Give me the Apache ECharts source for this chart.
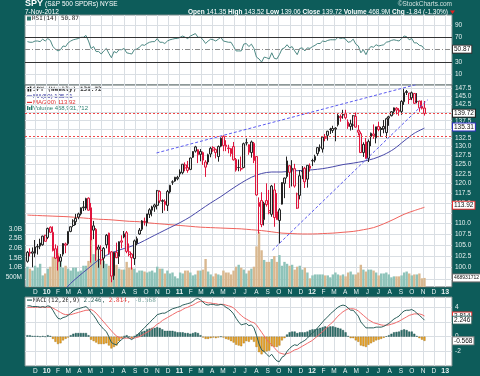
<!DOCTYPE html>
<html>
<head>
<meta charset="utf-8">
<title>SPY weekly</title>
<script src="https://cdn.jsdelivr.net/npm/echarts@6.0.0/dist/echarts.min.js"></script>
<style>
  html, body { margin: 0; padding: 0; background: #0d5c5a; }
  #chart { width: 480px; height: 376px; }
</style>
</head>
<body>
<div id="chart"></div>
<script>
// SPY weekly bars, Nov 2009 - Nov 2012 (dividend adjusted prices)
const firstWeek = Date.UTC(2009, 10, 9);   // monday of the first bar
const WEEK = 7 * 864e5;

// [open, high, low, close]
const ohlc = [
  [101.3,103.6,101.0,103.3],[103.3,104.2,102.4,103.1],[103.4,104.4,100.0,103.1],[103.1,106.1,102.2,104.5],[104.6,105.2,102.8,104.5],
  [105.4,106.4,104.0,104.7],[105.0,107.1,104.8,107.0],[107.2,107.3,105.8,105.8],[106.7,109.0,106.3,108.8],[109.1,109.3,107.7,107.9],
  [107.9,109.3,103.5,103.7],[104.1,105.1,101.8,102.0],[102.5,104.8,99.3,101.2],[101.3,102.9,100.1,102.2],[102.9,105.4,102.4,105.3],
  [105.2,105.5,103.1,104.9],[105.3,108.1,104.9,108.1],[108.1,109.3,107.9,109.2],[109.5,111.0,109.1,110.6],[110.4,112.3,109.6,111.2],
  [111.5,112.6,111.0,112.3],[112.3,113.9,111.9,113.8],[114.0,115.5,113.0,113.8],[113.7,116.3,113.2,116.1],[116.2,116.4,113.1,113.2],
  [113.8,115.0,101.0,106.1],[109.4,110.6,106.3,108.4],[108.6,108.9,101.4,103.8],[104.5,105.0,99.9,104.0],[103.7,104.9,100.6,101.6],
  [102.0,104.5,99.8,104.2],[105.0,107.5,104.2,107.2],[107.7,107.8,102.8,103.2],[103.4,103.6,96.8,98.1],[98.2,103.4,97.3,103.3],
  [103.3,105.5,102.0,102.1],[102.4,105.8,100.7,105.7],[105.9,107.2,104.2,105.6],[106.8,108.2,106.5,107.5],[107.8,108.2,103.1,103.5],
  [103.4,105.3,102.4,102.8],[102.9,103.1,99.5,102.1],[101.9,106.2,100.5,105.9],[105.3,106.9,104.9,106.4],[107.5,108.9,107.3,108.4],
  [108.6,110.8,108.2,110.6],[110.5,111.4,109.5,110.4],[110.2,112.3,109.3,112.3],[112.2,113.7,111.3,113.3],[113.2,114.3,111.7,114.0],
  [114.5,114.8,112.8,114.0],[114.4,118.3,113.4,118.1],[117.9,118.2,115.0,115.5],[115.4,115.9,112.5,115.6],[115.4,115.9,113.1,114.6],
  [114.4,118.3,113.0,117.9],[117.8,119.6,117.4,119.5],[120.3,120.8,119.6,120.4],[120.6,121.7,120.4,121.6],[121.2,122.0,120.8,121.6],
  [122.5,123.7,121.7,123.0],[122.8,125.1,122.4,125.1],[124.9,125.6,123.2,124.1],[124.2,126.0,122.8,123.4],[123.7,126.9,123.5,126.8],
  [127.0,128.7,126.8,128.6],[128.7,130.2,128.3,129.9],[129.1,129.2,125.4,127.7],[128.6,129.3,125.9,127.8],[128.3,128.6,124.9,126.2],
  [125.7,126.2,121.7,124.3],[125.7,128.0,125.0,127.7],[127.9,129.9,127.0,129.5],[129.7,130.1,128.5,129.0],[129.2,129.4,126.7,128.3],
  [127.2,130.3,125.8,130.0],[130.1,132.6,129.8,132.4],[132.9,133.2,128.7,130.3],[130.4,131.8,128.7,130.0],[129.4,130.5,128.1,129.6],
  [128.0,129.6,127.2,129.4],[130.0,131.3,126.1,126.3],[126.4,126.8,123.1,123.5],[124.2,126.4,123.2,124.2],[123.9,127.2,123.2,123.8],
  [124.2,131.1,124.0,130.8],[131.0,132.3,130.3,131.1],[130.5,130.6,127.7,128.4],[128.3,131.7,126.9,131.3],[130.9,131.3,125.4,126.1],
  [127.2,127.2,116.8,117.0],[114.1,116.4,107.6,115.1],[115.6,117.7,109.1,109.7],[110.9,115.3,109.5,114.9],[115.6,120.0,114.1,114.6],
  [113.1,118.3,112.2,112.6],[112.2,119.6,111.6,119.3],[118.3,120.0,109.2,111.4],[112.8,117.5,110.9,110.9],[110.7,113.7,105.3,113.3],
  [114.7,120.3,114.6,120.2],[120.0,121.5,116.2,121.4],[121.8,127.2,121.3,126.0],[124.7,124.8,118.8,122.9],[123.6,126.2,119.2,124.0],
  [123.9,125.2,118.9,119.3],[117.3,117.6,113.5,113.7],[116.9,123.5,115.9,122.0],[123.2,124.6,121.1,123.1],[124.0,124.4,118.8,120.4],
  [121.1,124.8,118.9,124.8],[124.6,125.3,123.1,124.0],[126.0,126.6,124.6,126.1],[126.2,127.7,125.6,127.2],[128.0,129.8,127.4,129.7],
  [129.8,130.6,128.6,129.8],[129.3,132.8,128.3,132.7],[132.4,133.6,131.5,132.5],[133.2,134.5,131.7,134.4],[135.0,135.4,133.6,134.9],
  [134.6,136.0,133.9,135.2],[135.0,135.6,131.5,135.3],[136.3,139.5,135.8,139.1],[138.8,139.4,137.2,138.4],[139.2,140.8,138.1,139.4],
  [139.6,140.8,137.9,138.4],[137.1,137.9,135.1,135.8],[135.8,137.8,134.6,136.6],[136.2,139.2,134.8,139.0],[138.8,140.0,135.5,135.6],
  [134.7,136.2,133.2,134.1],[133.7,134.3,128.2,128.3],[128.3,131.2,127.1,130.6],[131.3,132.4,126.6,126.7],[126.7,132.0,125.7,131.4],
  [132.8,134.0,130.1,133.8],[133.6,136.4,132.2,133.1],[132.5,135.7,130.9,135.7],[135.8,137.2,134.4,134.9],[134.9,135.7,132.8,135.2],
  [135.1,137.7,133.8,135.8],[134.0,138.4,132.4,138.1],[138.3,139.0,136.0,138.7],[139.0,140.4,138.8,140.2],[140.3,141.5,139.4,141.4],
  [141.3,141.6,139.4,140.7],[140.7,141.3,139.0,140.3],[140.3,143.8,139.3,143.4],[143.3,147.4,142.3,146.1],[146.5,147.0,145.4,146.2],
  [146.0,146.0,142.6,144.0],[144.5,146.5,143.8,146.1],[145.9,146.0,142.6,142.8],[143.4,146.0,142.8,143.4],[143.5,143.6,140.2,141.4],
  [141.9,143.7,140.9,141.3],[141.35,143.52,139.06,139.72]
];

// weekly volume, millions of shares
const volumeM = [
  1050,950,850,1100,1000,1200,600,700,
  950,1050,1550,1500,1750,1300,1000,1100,950,850,
  1000,1000,800,850,1100,1100,1350,2600,1700,1950,1450,1600,1350,
  1200,1100,1450,1100,1150,950,900,900,1300,1000,1000,950,750,
  850,850,800,750,800,850,750,1050,950,950,700,850,700,
  750,550,450,
  750,700,850,850,750,600,650,850,850,900,
  1450,800,650,550,700,650,600,850,750,750,650,850,1050,
  1150,1000,900,700,850,950,1050,2100,2850,1900,1400,1300,1300,
  1450,1600,1300,1650,1100,1300,1200,1100,1150,900,1050,1100,900,
  1000,750,450,
  600,650,650,650,650,600,600,500,650,750,
  650,600,650,550,750,800,650,650,750,1150,900,800,900,
  900,850,750,600,700,700,750,650,500,550,550,550,600,
  750,800,700,600,650,650,700,450,469
];

const rsi = [
  63,62,62,64,64,63,67,64,
  68,65,55,51,48,50,56,55,
  61,64,66,67,68,70,70,73,64,
  52,55,47,47,43,48,52,44,37,
  47,45,50,50,52,45,44,43,50,51,
  54,58,57,60,62,63,63,68,62,62,60,64,66,67,68,68,
  70,72,70,68,72,74,76,70,70,66,
  60,64,67,66,64,67,70,64,63,62,62,55,48,
  48,48,59,60,55,59,52,38,35,30,38,37,35,
  45,36,35,42,51,53,58,53,55,48,42,52,53,48,53,52,
  55,57,60,60,64,63,65,66,66,66,
  70,68,69,67,62,63,67,59,56,45,50,42,51,
  55,54,58,56,57,58,62,63,65,66,65,64,68,72,
  71,66,68,61,61,57,56,50.87
];

const macd = [
  4.2,4.2,4.1,4.1,4.1,4.0,4.1,4.0,
  4.2,4.1,3.6,3.0,2.5,2.4,2.6,2.7,
  2.9,3.2,3.5,3.7,3.8,3.9,4.0,4.1,3.8,
  3.3,2.9,2.4,1.8,1.4,1.0,0.7,0.0,-0.8,
  -1.0,-1.1,-0.7,-0.4,-0.1,0.0,-0.2,-0.4,-0.1,0.2,
  0.5,0.9,1.2,1.6,1.9,2.3,2.6,3.0,3.1,3.2,3.2,3.4,3.6,3.8,3.9,4.0,
  4.1,4.3,4.4,4.5,4.6,4.8,5.1,5.2,5.0,4.7,
  4.4,4.3,4.4,4.4,4.3,4.3,4.4,4.3,4.0,3.8,3.5,3.1,2.5,
  2.0,1.6,1.7,1.8,1.5,1.6,1.2,0.2,-1.0,-1.8,-2.0,-2.4,-2.7,
  -2.4,-2.9,-3.3,-3.4,-2.8,-2.6,-2.0,-1.6,-1.3,-1.1,-1.2,-0.9,-0.7,-0.5,-0.2,0.2,
  0.5,0.8,1.2,1.6,2.0,2.4,2.7,3.1,3.4,3.7,
  4.0,4.2,4.3,4.2,3.9,3.6,3.6,3.2,2.8,2.0,1.6,1.2,1.2,
  1.2,1.2,1.3,1.3,1.3,1.4,1.6,1.8,2.1,2.4,2.6,2.8,3.2,3.5,
  3.6,3.6,3.7,3.5,3.2,2.9,2.6,2.246
];

const signal = [
  4.0,4.0,4.0,4.0,4.0,4.0,4.0,4.0,
  4.0,4.0,3.9,3.7,3.5,3.3,3.1,3.0,
  3.0,3.0,3.1,3.2,3.3,3.4,3.5,3.6,3.6,
  3.7,3.5,3.2,2.8,2.4,2.0,1.6,1.2,0.8,
  0.4,0.1,-0.1,-0.2,-0.2,-0.2,-0.2,-0.2,-0.2,-0.1,
  0.0,0.2,0.4,0.6,0.8,1.1,1.4,1.7,1.9,2.2,2.4,2.6,2.8,3.0,3.2,3.4,
  3.5,3.7,3.9,4.0,4.2,4.3,4.5,4.7,4.8,4.8,
  4.7,4.6,4.6,4.5,4.5,4.4,4.4,4.4,4.3,4.2,4.1,3.9,3.6,
  3.2,2.9,2.6,2.4,2.2,2.0,1.9,1.6,1.1,0.6,0.1,-0.4,-0.8,
  -1.1,-1.5,-1.9,-2.2,-2.3,-2.4,-2.3,-2.2,-2.0,-1.8,-1.7,-1.5,-1.3,-1.1,-0.9,-0.7,
  -0.5,-0.2,0.1,0.4,0.7,1.0,1.4,1.7,2.0,2.4,
  2.8,3.1,3.4,3.6,3.8,3.8,3.8,3.7,3.5,3.2,2.9,2.6,2.3,
  2.1,1.9,1.8,1.7,1.6,1.55,1.55,1.6,1.7,1.8,1.95,2.1,2.3,2.5,
  2.7,2.9,3.0,3.1,3.1,3.1,3.0,2.814
];

const hist = [
  0.2,0.2,0.1,0.1,0.1,0.0,0.1,0.0,
  0.2,0.1,-0.3,-0.7,-1.0,-0.9,-0.5,-0.3,
  -0.1,0.2,0.4,0.5,0.5,0.5,0.5,0.5,0.2,
  -0.4,-0.6,-0.8,-1.0,-1.0,-1.0,-0.9,-1.2,-1.6,
  -1.4,-1.2,-0.6,-0.2,0.1,0.2,0.0,-0.2,0.1,0.3,
  0.5,0.7,0.8,1.0,1.1,1.2,1.2,1.3,1.2,1.0,0.8,0.8,0.8,0.8,0.7,0.6,
  0.6,0.6,0.5,0.5,0.4,0.5,0.6,0.5,0.2,-0.1,
  -0.3,-0.3,-0.2,-0.1,-0.2,-0.1,0.0,-0.1,-0.3,-0.4,-0.6,-0.8,-1.1,
  -1.2,-1.3,-0.9,-0.6,-0.7,-0.4,-0.7,-1.4,-2.1,-2.4,-2.1,-2.0,-1.9,
  -1.3,-1.4,-1.4,-1.2,-0.5,-0.2,0.3,0.6,0.7,0.7,0.5,0.6,0.6,0.6,0.7,0.9,
  1.0,1.0,1.1,1.2,1.3,1.4,1.3,1.4,1.4,1.3,
  1.2,1.1,0.9,0.6,0.1,-0.2,-0.2,-0.5,-0.7,-1.2,-1.3,-1.4,-1.1,
  -0.9,-0.7,-0.5,-0.4,-0.3,-0.15,0.05,0.2,0.4,0.6,0.65,0.7,0.9,1.0,
  0.9,0.7,0.7,0.4,0.1,-0.2,-0.4,-0.568
];

// moving averages, read every 4th week
const ma50 = [
  85.5,88.0,90.5,93.0,96.0,98.0,99.8,101.6,102.9,103.8,
  104.5,105.4,106.6,107.8,109.0,110.2,111.6,113.3,115.0,116.6,
  118.4,120.1,121.6,122.6,123.0,123.0,123.3,123.4,123.6,123.9,
  124.4,125.0,125.4,125.9,126.6,127.7,129.3,131.6,133.8,135.31
];
const ma200 = [
  112.0,111.9,111.8,111.7,111.6,111.4,111.2,111.0,110.9,110.7,
  110.5,110.4,110.1,109.9,109.7,109.5,109.3,109.1,109.0,108.9,
  108.8,108.7,108.5,108.3,108.0,107.7,107.6,107.5,107.5,107.6,
  107.7,107.9,108.1,108.5,109.0,109.9,111.0,112.2,113.1,113.92
];

// drawn lines on the price panel
const upperTrend = [[Date.UTC(2010, 9, 30), 128.2], [Date.UTC(2012, 9, 12), 148.7]];
const lowerTrend = [[Date.UTC(2011, 8, 14), 103.8], [Date.UTC(2012, 10, 14), 143.9]];
const hLines = [139.72, 133.2];

// ticks
const priceGrid = [97.5,100,102.5,105,107.5,110,112.5,115,117.5,120,122.5,125,127.5,130,132.5,135,137.5,140,142.5,145,147.5];
const priceLabels = [100,102.5,105,107.5,110,115,117.5,120,122.5,125,127.5,130,132.5,137.5,142.5,145,147.5];
const volLabels = [5e8, 1e9, 1.5e9, 2e9, 2.5e9, 3e9];
const rsiGrid = [10, 90];
const rsiLabels = [10, 30, 70, 90];
const macdGrid = [-2, 0, 2, 4];
const macdLabels = [-2, 0, 4];

[volumeM, rsi, macd, signal, hist].forEach((a, k) => {
  if (a.length !== ohlc.length) throw new Error('array ' + k + ' has ' + a.length + ' vs ' + ohlc.length);
});

const weeks = ohlc.map((r, i) => firstWeek + i * WEEK);
const maWeeks = ma50.map((v, i) => weeks[i * 4]);

const xMin = Date.UTC(2009, 10, 2, 8);
const xMax = Date.UTC(2013, 0, 19, 17);

const monthTicks = [];
for (let y = 2009; y <= 2013; y++) {
  for (let m = 0; m < 12; m++) {
    const t = Date.UTC(y, m, 1);
    if (t > xMin && t < xMax) monthTicks.push(t);
  }
}
const MONTHS = 'JFMAMJJASOND';
function monthLabel(v) {
  const d = new Date(v);
  const m = d.getUTCMonth();
  return m === 0 ? '{y|' + String(d.getUTCFullYear()).slice(2) + '}' : MONTHS[m];
}

const FONT = 'Liberation Sans, Arial, sans-serif';
const MONO = 'DejaVu Sans Mono, monospace';
const GRID_LINE = '#d9dee3';
const AXIS_TEXT = '#e8f0f0';
const RED = '#e0143c';
const UP_VOL = '#8ec3b9';
const DOWN_VOL = '#d9b890';
const NO_LINE = { color: 'rgba(0,0,0,0)', width: 0 };

// dates are plain millisecond values on a value axis, so the month ticks can be placed by hand
function dateAxis(gridIndex, showLabels) {
  return {
    type: 'value', gridIndex: gridIndex, min: xMin, max: xMax,
    axisLine: { show: false },
    axisTick: { show: false, customValues: monthTicks },
    splitLine: { show: true, lineStyle: { color: GRID_LINE, width: 1 } },
    axisLabel: {
      show: showLabels, customValues: monthTicks, formatter: monthLabel,
      color: AXIS_TEXT, fontSize: 6.5, fontFamily: FONT, margin: 2,
      rich: { y: { fontWeight: 'bold', fontSize: 7, color: AXIS_TEXT, fontFamily: FONT } }
    }
  };
}

function valueAxis(gridIndex, pos, min, max, gridVals, labelVals, fmt) {
  return {
    type: 'value', gridIndex: gridIndex, position: pos, min: min, max: max,
    axisLine: { show: false },
    axisTick: { show: false, customValues: gridVals },
    splitLine: { show: gridVals.length > 0, lineStyle: { color: GRID_LINE, width: 1 } },
    axisLabel: {
      customValues: labelVals, formatter: fmt, color: AXIS_TEXT,
      fontSize: 6.5, fontFamily: FONT, margin: 3
    }
  };
}

function boxLabel(text, border, size) {
  return {
    show: true, position: 'end', distance: 1, formatter: text,
    backgroundColor: '#fff', borderColor: border, borderWidth: 1, opacity: 1,
    padding: [0, 1, 0, 1], color: '#111', fontSize: size || 6.5, fontFamily: FONT, lineHeight: 7
  };
}

// one invisible horizontal mark carrying a value box at the right edge
function valueBox(y, text, border, size) {
  return {
    silent: true, symbol: 'none', animation: false,
    data: [{ yAxis: y, lineStyle: NO_LINE, label: boxLabel(text, border, size) }]
  };
}

const ln = Math.log;

const candleData = ohlc.map((r, i) => {
  const prev = i ? ohlc[i - 1][3] : r[0];
  const col = r[3] >= prev ? '#222' : RED;
  return {
    value: [weeks[i], ln(r[0]), ln(r[3]), ln(r[2]), ln(r[1])],
    itemStyle: { color: '#e6e6e6', color0: col, borderColor: col, borderColor0: col }
  };
});

const volData = volumeM.map((v, i) => ({
  value: [weeks[i], v * 1e6],
  itemStyle: { color: (i === 0 || ohlc[i][3] >= ohlc[i - 1][3]) ? UP_VOL : DOWN_VOL }
}));

const histData = hist.map((v, i) => ({
  value: [weeks[i], v],
  itemStyle: v >= 0
    ? { color: '#2f716b', borderColor: '#1d4f4b', borderWidth: 0.4 }
    : { color: '#f3a622', borderColor: '#9a6a10', borderWidth: 0.4 }
}));

const chart = echarts.init(document.getElementById('chart'), null, { renderer: 'canvas' });

chart.setOption({
  animation: false,
  backgroundColor: '#0d5c5a',
  grid: [
    { left: 25, right: 28, top: 15, height: 70, show: true, backgroundColor: '#fff', borderColor: '#7d8d8d', borderWidth: 1 },
    { left: 25, right: 28, top: 85, height: 202, show: true, backgroundColor: '#fff', borderColor: '#5d6a6a', borderWidth: 1 },
    { left: 25, right: 28, top: 297, height: 69, show: true, backgroundColor: '#fff', borderColor: '#7d8d8d', borderWidth: 1 }
  ],
  xAxis: [dateAxis(0, false), dateAxis(1, true), dateAxis(2, true)],
  yAxis: [
    valueAxis(0, 'right', -7, 106, rsiGrid, rsiLabels),
    valueAxis(1, 'right', ln(95.8), ln(148.6), priceGrid.map(ln), priceLabels.map(ln), v => Math.exp(v).toFixed(1)),
    valueAxis(1, 'left', 0, 10.45e9, [], volLabels, v => v < 1e9 ? (v / 1e6) + 'M' : (v / 1e9).toFixed(1) + 'B'),
    valueAxis(2, 'right', -3.99, 5.4, macdGrid, macdLabels)
  ],
  series: [
    // RSI: fill above 70
    {
      type: 'line', xAxisIndex: 0, yAxisIndex: 0, stack: 'ob', symbol: 'none', silent: true,
      data: weeks.map(t => [t, 70]), lineStyle: NO_LINE
    },
    {
      type: 'line', xAxisIndex: 0, yAxisIndex: 0, stack: 'ob', symbol: 'none', silent: true,
      data: rsi.map((v, i) => [weeks[i], Math.max(v - 70, 0)]),
      lineStyle: NO_LINE, areaStyle: { color: '#2c776f', opacity: 1 }
    },
    {
      type: 'line', xAxisIndex: 0, yAxisIndex: 0, symbol: 'none', z: 4,
      data: rsi.map((v, i) => [weeks[i], v]),
      lineStyle: { color: '#4d8984', width: 1 },
      markLine: {
        silent: true, symbol: 'none', animation: false,
        data: [
          { yAxis: 70, lineStyle: { color: '#333', width: 1, type: 'solid' }, label: { show: false } },
          { yAxis: 30, lineStyle: { color: '#333', width: 1, type: 'solid' }, label: { show: false } },
          { yAxis: 50, lineStyle: { color: '#8a8a8a', width: 1, type: [5, 2, 1, 2] }, label: { show: false } },
          { yAxis: 50.87, lineStyle: NO_LINE, label: boxLabel('50.87', '#333') }
        ]
      }
    },
    // volume
    {
      type: 'bar', xAxisIndex: 1, yAxisIndex: 2, barWidth: 2.4, data: volData, z: 1,
      markLine: valueBox(468931712, '468931712', '#666', 5)
    },
    // moving averages
    {
      type: 'line', xAxisIndex: 1, yAxisIndex: 1, symbol: 'none', smooth: 0.3, z: 2,
      data: ma200.map((v, i) => [maWeeks[i], ln(v)]),
      lineStyle: { color: '#f0625c', width: 1 },
      markLine: valueBox(ln(113.92), '113.92', '#e03030')
    },
    {
      type: 'line', xAxisIndex: 1, yAxisIndex: 1, symbol: 'none', smooth: 0.3, z: 2,
      data: ma50.map((v, i) => [maWeeks[i], ln(v)]),
      lineStyle: { color: '#4848a8', width: 1 },
      markLine: valueBox(ln(135.31), '135.31', '#3030c0')
    },
    // price bars
    {
      type: 'candlestick', xAxisIndex: 1, yAxisIndex: 1, barWidth: 2.2, z: 3,
      encode: { x: 0, y: [1, 2, 3, 4] },
      data: candleData,
      markLine: {
        silent: true, symbol: 'none', animation: false,
        lineStyle: { color: '#f04848', width: 1, type: [2, 2] },
        data: [
          { yAxis: ln(hLines[0]), label: boxLabel('139.72', '#222') },
          { yAxis: ln(hLines[1]), label: { show: false } }
        ]
      }
    },
    // trendlines
    {
      type: 'line', xAxisIndex: 1, yAxisIndex: 1, symbol: 'none', z: 4, silent: true,
      data: upperTrend.map(p => [p[0], ln(p[1])]),
      lineStyle: { color: '#5b5bef', width: 1, type: [3, 2] }
    },
    {
      type: 'line', xAxisIndex: 1, yAxisIndex: 1, symbol: 'none', z: 4, silent: true,
      data: lowerTrend.map(p => [p[0], ln(p[1])]),
      lineStyle: { color: '#5b5bef', width: 1, type: [3, 2] }
    },
    // MACD
    {
      type: 'bar', xAxisIndex: 2, yAxisIndex: 3, barWidth: 2, data: histData, z: 1,
      markLine: valueBox(-0.568, '-0.568', '#888')
    },
    {
      type: 'line', xAxisIndex: 2, yAxisIndex: 3, symbol: 'none', z: 3,
      data: signal.map((v, i) => [weeks[i], v]),
      lineStyle: { color: '#f06a6a', width: 1 },
      markLine: valueBox(2.814, '2.814', '#e03030')
    },
    {
      type: 'line', xAxisIndex: 2, yAxisIndex: 3, symbol: 'none', z: 4,
      data: macd.map((v, i) => [weeks[i], v]),
      lineStyle: { color: '#2b5f5b', width: 1 },
      markLine: valueBox(2.246, '2.246', '#2b5f5b')
    }
  ],
  graphic: [
    { type: 'text', x: 25, y: 4, style: { text: 'SPY', font: 'bold 9px ' + FONT, fill: '#fff', verticalAlign: 'middle' } },
    { type: 'text', x: 45, y: 4.5, style: { text: '(S&P 500 SPDRs) NYSE', font: '6.5px ' + FONT, fill: '#fff', verticalAlign: 'middle' } },
    { type: 'text', x: 25, y: 12, style: { text: '7-Nov-2012', font: '6.5px ' + FONT, fill: '#fff', verticalAlign: 'middle' } },
    { type: 'text', x: 452, y: 4, style: { text: '\u00a9StockCharts.com', font: '6.5px ' + FONT, fill: '#cfe0de', align: 'right', verticalAlign: 'middle' } },
    {
      type: 'text', x: 448, y: 12,
      style: {
        text: '{b|Open} 141.35 {b|High} 143.52 {b|Low} 139.06 {b|Close} 139.72 {b|Volume} 468.9M {b|Chg} -1.84 (-1.30%)',
        font: '6.5px ' + FONT, fill: '#fff', align: 'right', verticalAlign: 'middle',
        rich: { b: { fontWeight: 'bold', fontSize: 6.5, fontFamily: FONT, fill: '#fff' } }
      }
    },
    { type: 'polygon', shape: { points: [[450, 10.5], [455, 10.5], [452.5, 14]] }, style: { fill: '#e02020' } },

    // RSI legend
    { type: 'rect', shape: { x: 27, y: 16.5, width: 4, height: 4 }, style: { fill: '#2c776f' } },
    { type: 'text', x: 32, y: 18.8, style: { text: 'RSI(14) 50.87', font: '6px ' + MONO, fill: '#222', verticalAlign: 'middle' } },

    // price legend
    { type: 'rect', shape: { x: 27.5, y: 87, width: 1.5, height: 4.5 }, style: { fill: '#222' } },
    { type: 'rect', shape: { x: 29.8, y: 86.5, width: 1.5, height: 5 }, style: { fill: '#222' } },
    { type: 'text', x: 33, y: 89.3, style: { text: 'SPY (Weekly) 139.72', font: 'bold 6px ' + MONO, fill: '#333', verticalAlign: 'middle' } },
    { type: 'rect', shape: { x: 27, y: 95.5, width: 5, height: 1.2 }, style: { fill: '#2a2a9a' } },
    { type: 'text', x: 33, y: 96.2, style: { text: 'MA(50) 135.31', font: '6px ' + FONT, fill: '#2a2a9a', verticalAlign: 'middle' } },
    { type: 'rect', shape: { x: 27, y: 101.8, width: 5, height: 1.2 }, style: { fill: '#e03030' } },
    { type: 'text', x: 33, y: 102.5, style: { text: 'MA(200) 113.92', font: '6px ' + FONT, fill: '#e03030', verticalAlign: 'middle' } },
    { type: 'rect', shape: { x: 27, y: 106, width: 1.4, height: 4 }, style: { fill: '#2a8070' } },
    { type: 'rect', shape: { x: 29, y: 107, width: 1.4, height: 3 }, style: { fill: '#2a8070' } },
    { type: 'rect', shape: { x: 31, y: 105.5, width: 1.4, height: 4.5 }, style: { fill: '#2a8070' } },
    { type: 'text', x: 33, y: 108.2, style: { text: 'Volume 468,931,712', font: '6px ' + FONT, fill: '#2a8070', verticalAlign: 'middle' } },

    // MACD legend
    { type: 'rect', shape: { x: 27, y: 299.5, width: 5, height: 1.2 }, style: { fill: '#2b5f5b' } },
    {
      type: 'text', x: 33, y: 300.2,
      style: {
        text: 'MACD(12,26,9) {g|2.246,} {r|2.814,} {t|-0.568}',
        font: '6px ' + MONO, fill: '#222', verticalAlign: 'middle',
        rich: {
          g: { fill: '#2b5f5b', font: '6px ' + MONO },
          r: { fill: '#e03030', font: '6px ' + MONO },
          t: { fill: '#6f9f99', font: '6px ' + MONO }
        }
      }
    }
  ]
});
</script>
</body>
</html>
